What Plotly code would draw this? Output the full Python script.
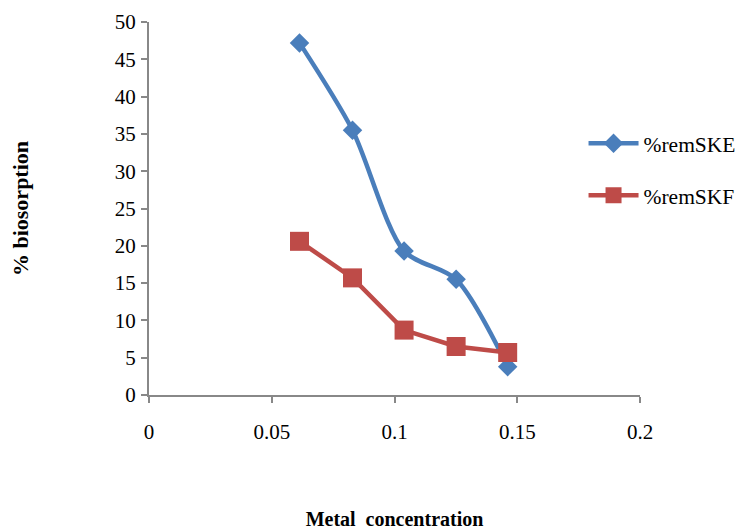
import plotly.graph_objects as go

x_vals = [0.0613, 0.0829, 0.1039, 0.1251, 0.1461]
ske = [47.2, 35.5, 19.3, 15.5, 3.8]
skf = [20.6, 15.7, 8.7, 6.5, 5.7]
x_ticks = [0, 0.05, 0.1, 0.15, 0.2]
x_tick_text = ["0", "0.05", "0.1", "0.15", "0.2"]
y_ticks = [0, 5, 10, 15, 20, 25, 30, 35, 40, 45, 50]

font = "Liberation Serif, Times New Roman, serif"

fig = go.Figure()
fig.add_trace(go.Scatter(
    x=x_vals, y=ske, name="%remSKE", mode="lines+markers", legendgroup="a",
    line=dict(color="#4A7EBB", width=4.5, shape="spline", smoothing=0.8),
    marker=dict(symbol="diamond", size=15, color="#4A7EBB"),
))
fig.add_trace(go.Scatter(
    x=x_vals, y=skf, name="%remSKF", mode="lines+markers", legendgroup="b",
    line=dict(color="#BE4B48", width=4.5),
    marker=dict(symbol="square", size=19, color="#BE4B48"),
))

fig.update_layout(
    width=745, height=531,
    margin=dict(l=141, r=113, t=14, b=144, autoexpand=False),
    paper_bgcolor="white", plot_bgcolor="white",
    font=dict(family=font, size=21, color="black"),
    showlegend=True,
    legend=dict(x=0.885, y=0.73, xanchor="left", yanchor="top",
                font=dict(size=21.5), tracegroupgap=21, itemwidth=50,
                bgcolor="rgba(0,0,0,0)"),
    xaxis=dict(range=[0, 0.2], tickvals=x_ticks, ticktext=x_tick_text,
               showgrid=False, zeroline=False, showline=True,
               linecolor="#888888", linewidth=2, ticks="outside",
               ticklen=6, tickcolor="#888888", tickwidth=2,
               ticklabelstandoff=11,
               title=dict(text="<b>Metal  concentration</b>", standoff=69,
                          font=dict(size=20))),
    yaxis=dict(range=[0, 50], tickvals=y_ticks,
               showgrid=False, zeroline=False, showline=True,
               linecolor="#888888", linewidth=2, ticks="outside",
               ticklen=6, tickcolor="#888888", tickwidth=2,
               ticklabelstandoff=1,
               title=dict(text="<b>% biosorption</b>", standoff=86,
                          font=dict(size=22))),
)

fig.write_html("out.html")
